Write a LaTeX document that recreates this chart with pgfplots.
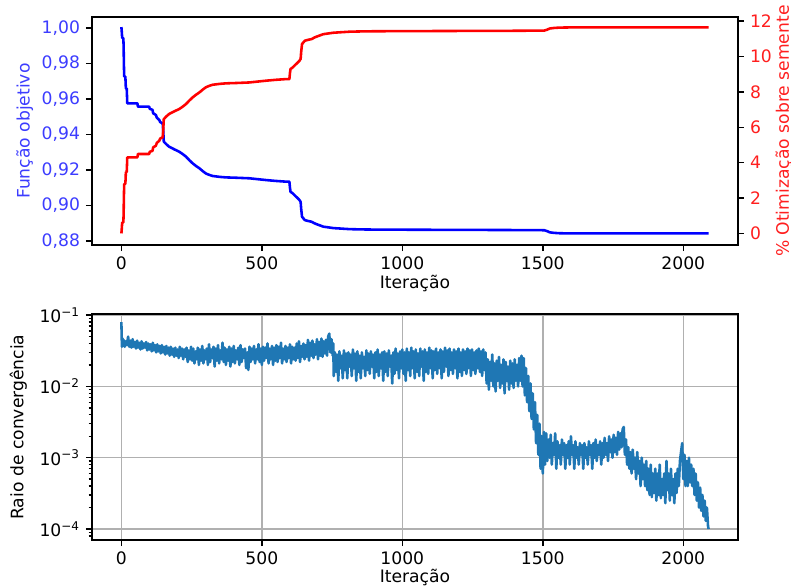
\documentclass[border=0pt]{standalone}
\usepackage{fontspec}
\setmainfont{DejaVu Sans}
\usepackage{pgfplots}
\pgfplotsset{compat=1.18}

\definecolor{mplblue}{HTML}{1F77B4}
\definecolor{gridgray}{HTML}{B0B0B0}
\definecolor{lblblue}{RGB}{60,60,255}
\definecolor{lblred}{RGB}{255,30,30}

\pgfplotsset{
  mpl/.style={
    scale only axis,
    width=376.3pt,
    /pgf/number format/assume math mode=true,
    /pgf/number format/1000 sep={},
    tick align=outside,
    major tick length=3.5pt,
    minor tick length=2pt,
    tick style={black, line width=0.8pt},
    axis line style={line width=0.8pt},
    xmin=-104.5, xmax=2194.5,
    xtick={0,500,1000,1500,2000},
    xtick pos=bottom,
  }
}

% objective function (blue) per iteration
\pgfplotstableread{
it f
0 1.0006
1 0.9990
2 0.9965
3 0.9944
7 0.9944
8 0.9900
9 0.9800
10 0.9727
14 0.9727
15 0.9700
16 0.9660
19 0.9660
20 0.9620
21 0.9576
57 0.9576
59 0.9557
99 0.9557
101 0.9545
111 0.9539
113 0.9520
123 0.9510
126 0.9495
135 0.9482
138 0.9470
147 0.9463
149 0.9420
151 0.9360
160 0.9345
170 0.9331
190 0.9315
206 0.9303
218 0.9290
230 0.9275
242 0.9255
254 0.9237
266 0.9222
278 0.9209
290 0.9193
301 0.9180
313 0.9172
325 0.9166
350 0.9161
372 0.9158
410 0.9156
455 0.9153
485 0.9148
515 0.9143
550 0.9138
586 0.9134
598 0.9134
600 0.9100
602 0.9077
610 0.9068
616 0.9058
622 0.9049
628 0.9040
634 0.9030
638 0.9020
640 0.8980
643 0.8936
653 0.8917
665 0.8912
677 0.8908
686 0.8900
695 0.8894
707 0.8887
719 0.8880
737 0.8876
755 0.8872
784 0.8869
814 0.8866
874 0.8864
993 0.8863
1200 0.8862
1400 0.8861
1505 0.8860
1515 0.8855
1525 0.8848
1540 0.8845
1560 0.8843
1600 0.8842
2090 0.8842
}\objdata

% improvement over seed (red), percent
\pgfplotstableread{
it p
0 0.00
1 0.16
2 0.41
3 0.62
7 0.62
8 1.06
9 2.06
10 2.79
14 2.79
15 3.06
16 3.46
19 3.46
20 3.86
21 4.30
57 4.30
59 4.49
99 4.49
101 4.61
111 4.67
113 4.86
123 4.96
126 5.11
135 5.24
138 5.36
147 5.43
149 5.86
151 6.46
160 6.61
170 6.75
190 6.91
206 7.03
218 7.16
230 7.31
242 7.51
254 7.69
266 7.84
278 7.97
290 8.13
301 8.26
313 8.34
325 8.40
350 8.45
372 8.48
410 8.50
455 8.53
485 8.58
515 8.63
550 8.68
586 8.72
598 8.72
600 9.06
602 9.29
610 9.38
616 9.48
622 9.57
628 9.66
634 9.76
638 9.86
640 10.26
643 10.70
653 10.89
665 10.94
677 10.98
686 11.06
695 11.12
707 11.19
719 11.26
737 11.30
755 11.34
784 11.37
814 11.40
874 11.42
993 11.43
1200 11.44
1400 11.45
1505 11.46
1515 11.51
1525 11.58
1540 11.61
1560 11.63
1600 11.64
2090 11.64
}\optdata

% convergence radius
\pgfplotstableread{
it r
0 0.080
2 0.036
4 0.047
6 0.037
8 0.045
12 0.036
16 0.043
20 0.038
24 0.050
28 0.036
32 0.044
36 0.035
40 0.046
44 0.036
48 0.042
52 0.034
56 0.044
60 0.035
64 0.041
68 0.033
72 0.043
76 0.034
80 0.040
84 0.035
88 0.042
92 0.032
96 0.040
100 0.033
104 0.039
108 0.031
112 0.041
116 0.032
120 0.038
124 0.030
128 0.039
132 0.031
136 0.037
140 0.029
144 0.038
148 0.030
152 0.036
156 0.028
160 0.037
164 0.029
168 0.035
172 0.027
176 0.036
180 0.028
184 0.034
188 0.026
192 0.035
196 0.027
200 0.033
204 0.025
208 0.036
212 0.027
216 0.034
220 0.024
224 0.033
228 0.026
232 0.035
236 0.022
240 0.032
244 0.024
248 0.036
252 0.023
256 0.034
260 0.021
264 0.031
268 0.024
272 0.035
276 0.020
280 0.033
284 0.023
288 0.037
292 0.021
296 0.032
300 0.024
304 0.034
308 0.020
312 0.039
316 0.022
320 0.033
324 0.025
328 0.036
332 0.019
336 0.034
340 0.023
344 0.038
348 0.021
352 0.032
356 0.024
360 0.041
364 0.022
368 0.035
372 0.020
376 0.033
380 0.023
384 0.036
388 0.019
392 0.034
396 0.022
400 0.037
404 0.021
408 0.032
412 0.024
416 0.035
420 0.020
424 0.038
428 0.022
432 0.033
436 0.025
440 0.034
444 0.018
448 0.030
452 0.017
456 0.036
460 0.022
464 0.034
468 0.024
472 0.037
476 0.021
480 0.033
484 0.024
488 0.039
492 0.022
496 0.034
500 0.020
504 0.036
508 0.023
512 0.035
516 0.025
520 0.040
524 0.021
528 0.034
532 0.024
536 0.037
540 0.020
544 0.035
548 0.023
552 0.038
556 0.022
560 0.036
564 0.025
568 0.041
572 0.021
576 0.034
580 0.024
584 0.037
588 0.022
592 0.035
596 0.025
600 0.039
604 0.021
608 0.036
612 0.024
616 0.035
620 0.023
624 0.040
628 0.025
632 0.043
636 0.022
640 0.037
644 0.026
648 0.040
652 0.024
656 0.038
660 0.026
664 0.045
668 0.023
672 0.041
676 0.027
680 0.044
684 0.025
688 0.039
692 0.028
696 0.046
700 0.024
704 0.042
708 0.027
712 0.047
716 0.026
720 0.043
724 0.029
728 0.045
732 0.027
736 0.050
740 0.055
744 0.030
748 0.046
752 0.027
754 0.040
756 0.014
760 0.030
764 0.016
768 0.028
772 0.012
776 0.031
780 0.018
784 0.027
788 0.013
792 0.032
796 0.017
800 0.029
804 0.013
808 0.030
812 0.019
816 0.028
820 0.014
824 0.033
828 0.018
832 0.029
836 0.012
840 0.031
844 0.016
848 0.027
852 0.013
856 0.030
860 0.018
864 0.026
868 0.014
872 0.032
876 0.017
880 0.029
884 0.015
888 0.031
892 0.019
896 0.028
900 0.013
904 0.030
908 0.016
912 0.033
916 0.014
920 0.028
924 0.018
928 0.030
932 0.012
936 0.031
940 0.016
944 0.029
948 0.014
952 0.032
956 0.019
960 0.027
964 0.011
968 0.030
972 0.015
976 0.034
980 0.017
984 0.029
988 0.013
992 0.031
996 0.018
1000 0.033
1004 0.015
1008 0.030
1012 0.012
1016 0.034
1020 0.017
1024 0.030
1028 0.014
1032 0.035
1036 0.018
1040 0.031
1044 0.013
1048 0.033
1052 0.016
1056 0.029
1060 0.014
1064 0.034
1068 0.019
1072 0.031
1076 0.012
1080 0.033
1084 0.016
1088 0.030
1092 0.015
1096 0.035
1100 0.018
1104 0.032
1108 0.013
1112 0.031
1116 0.017
1120 0.034
1124 0.015
1128 0.030
1132 0.018
1136 0.033
1140 0.013
1144 0.031
1148 0.016
1152 0.035
1156 0.019
1160 0.032
1164 0.014
1168 0.034
1172 0.017
1176 0.030
1180 0.015
1184 0.033
1188 0.018
1192 0.031
1196 0.013
1200 0.034
1204 0.016
1208 0.030
1212 0.014
1216 0.033
1220 0.017
1224 0.031
1228 0.015
1232 0.034
1236 0.018
1240 0.032
1244 0.014
1248 0.033
1252 0.017
1256 0.030
1260 0.015
1264 0.032
1268 0.018
1272 0.034
1276 0.016
1280 0.031
1284 0.014
1288 0.033
1292 0.017
1296 0.030
1300 0.011
1304 0.024
1308 0.0090
1312 0.022
1316 0.012
1320 0.028
1324 0.010
1328 0.021
1332 0.0085
1336 0.023
1340 0.012
1344 0.026
1348 0.0095
1352 0.020
1356 0.011
1360 0.024
1364 0.0080
1368 0.022
1372 0.012
1376 0.019
1380 0.0090
1384 0.023
1388 0.011
1392 0.021
1396 0.0095
1400 0.024
1404 0.012
1408 0.020
1412 0.0100
1416 0.025
1420 0.012
1424 0.027
1428 0.010
1432 0.025
1436 0.0075
1440 0.018
1444 0.0060
1448 0.014
1452 0.0045
1456 0.011
1460 0.0035
1464 0.0080
1468 0.0025
1472 0.0060
1476 0.0016
1480 0.0040
1484 0.0011
1488 0.0030
1492 0.0007
1496 0.0020
1500 0.0006
1504 0.0023
1508 0.0008
1512 0.0022
1516 0.0009
1520 0.0018
1524 0.0010
1528 0.0021
1532 0.0008
1536 0.0016
1540 0.0011
1544 0.0022
1548 0.0007
1552 0.0017
1556 0.0010
1560 0.0015
1564 0.0008
1568 0.0018
1572 0.0011
1576 0.0016
1580 0.0007
1584 0.0015
1588 0.0010
1592 0.0017
1596 0.0008
1600 0.0020
1604 0.0011
1608 0.0015
1612 0.0007
1616 0.0017
1620 0.0010
1624 0.0014
1628 0.0008
1632 0.0016
1636 0.0011
1640 0.0015
1644 0.0007
1648 0.0016
1652 0.0010
1656 0.0014
1660 0.0008
1664 0.0017
1668 0.0011
1672 0.0015
1676 0.0007
1680 0.0016
1684 0.0010
1688 0.0018
1692 0.0009
1696 0.0015
1700 0.0011
1704 0.0017
1708 0.0008
1712 0.0016
1716 0.0010
1720 0.0019
1724 0.0011
1728 0.0016
1732 0.0009
1736 0.0020
1740 0.0012
1744 0.0018
1748 0.0010
1752 0.0021
1756 0.0012
1760 0.0019
1764 0.0011
1768 0.0023
1772 0.0013
1776 0.0022
1780 0.0014
1784 0.0025
1788 0.0027
1792 0.0011
1796 0.0018
1800 0.0008
1804 0.0014
1808 0.0007
1812 0.0012
1816 0.0006
1820 0.0013
1824 0.0007
1828 0.0010
1832 0.0005
1836 0.0012
1840 0.0006
1844 0.0009
1848 0.0004
1852 0.0010
1856 0.0005
1860 0.0008
1864 0.00040
1868 0.0009
1872 0.00035
1876 0.0007
1880 0.00030
1884 0.0008
1888 0.00028
1892 0.0006
1896 0.00032
1900 0.0007
1904 0.00025
1908 0.0006
1912 0.00030
1916 0.0008
1920 0.00027
1924 0.0005
1928 0.00030
1932 0.0006
1936 0.00023
1940 0.0009
1944 0.00035
1948 0.0006
1952 0.00025
1956 0.0007
1960 0.00030
1964 0.0005
1968 0.00023
1972 0.0006
1976 0.00032
1980 0.0007
1984 0.00040
1988 0.0009
1992 0.0012
1996 0.0016
2000 0.0005
2004 0.0011
2008 0.0004
2012 0.0009
2016 0.00040
2020 0.0010
2024 0.00045
2028 0.0008
2032 0.00040
2036 0.0007
2040 0.00030
2044 0.0006
2048 0.00025
2052 0.00045
2056 0.00020
2060 0.00038
2064 0.00018
2068 0.00030
2072 0.00015
2076 0.00025
2080 0.00013
2084 0.00020
2088 0.00011
2090 0.00010
}\raiodata

\begin{document}
\begin{tikzpicture}
% top: objective function, left axis
\begin{axis}[mpl,
    at={(0,171.8pt)}, anchor=south west,
    height=132.8pt,
    ymin=0.8776, ymax=1.0062,
    ytick={0.88,0.90,0.92,0.94,0.96,0.98,1.00},
    ytick pos=left,
    yticklabel style={color=lblblue,
      /pgf/number format/.cd, fixed, fixed zerofill, precision=2, use comma},
    ylabel={Função objetivo},
    ylabel style={color=lblblue, at={(axis description cs:-0.104,0.5)}, anchor=center},
    xlabel={Iteração},
    xlabel style={at={(axis description cs:0.5,-0.167)}, anchor=center},
  ]
  \addplot[blue, line width=1.5pt, line join=round] table[x=it, y=f] {\objdata};
\end{axis}
% top: improvement, right axis
\begin{axis}[mpl,
    at={(0,171.8pt)}, anchor=south west,
    height=132.8pt,
    axis x line=none,
    axis y line*=right,
    ymin=-0.66, ymax=12.22,
    ytick={0,2,4,6,8,10,12},
    yticklabel style={color=lblred},
    ylabel={\% Otimização sobre semente},
    ylabel style={color=lblred, rotate=0, at={(axis description cs:1.071,0.5)}, anchor=center},
  ]
  \addplot[red, line width=1.5pt, line join=round] table[x=it, y=p] {\optdata};
\end{axis}
% bottom: convergence radius
\begin{axis}[mpl,
    at={(0,0)}, anchor=south west,
    height=131.6pt,
    ymode=log,
    ymin=7.0e-5, ymax=0.1033,
    ytick={1e-4,1e-3,1e-2,1e-1},
    yticklabels={10\textsuperscript{−4},10\textsuperscript{−3},10\textsuperscript{−2},10\textsuperscript{−1}},
    minor ytick={8e-5,9e-5,2e-4,3e-4,4e-4,5e-4,6e-4,7e-4,8e-4,9e-4,2e-3,3e-3,4e-3,5e-3,6e-3,7e-3,8e-3,9e-3,2e-2,3e-2,4e-2,5e-2,6e-2,7e-2,8e-2,9e-2},
    ytick pos=left,
    grid=major,
    major grid style={gridgray, line width=0.8pt},
    ylabel={Raio de convergência},
    ylabel style={at={(axis description cs:-0.114,0.5)}, anchor=center},
    xlabel={Iteração},
    xlabel style={at={(axis description cs:0.5,-0.164)}, anchor=center},
  ]
  \addplot[mplblue, line width=1.5pt, line join=round] table[x=it, y=r] {\raiodata};
\end{axis}
\pgfresetboundingbox
\path (-53.6pt,-26.8pt) rectangle (407.2pt,314.6pt);
\end{tikzpicture}
\end{document}
